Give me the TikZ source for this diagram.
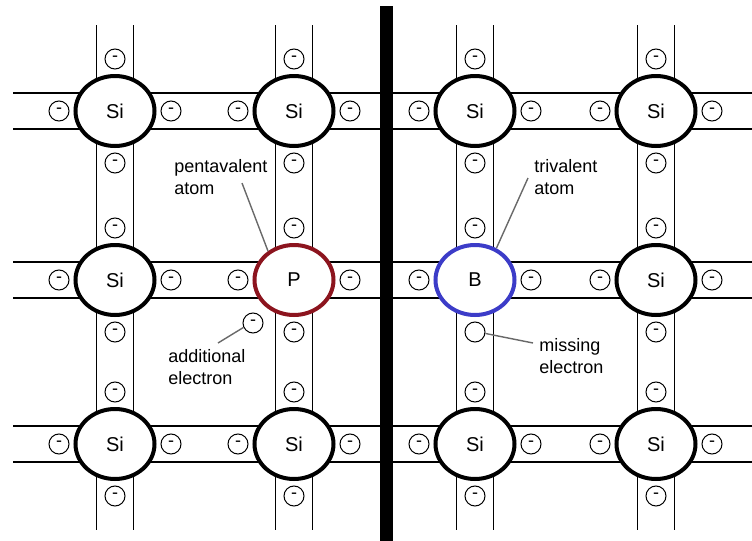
\documentclass[tikz,border=0pt]{standalone}
\usepackage{fontspec}
\setmainfont{Liberation Sans}
\usetikzlibrary{shapes.geometric}
\definecolor{pred}{RGB}{140,20,30}
\definecolor{bblue}{RGB}{60,60,200}
\definecolor{pgray}{RGB}{105,105,105}
\tikzset{
  atom/.style={ellipse,draw,fill=white,line width=2pt,minimum width=39.5pt,
    minimum height=35pt,inner sep=0pt,font=\fontsize{10}{12}\selectfont},
  elec/.style={circle,draw,fill=white,line width=0.5pt,minimum size=10pt,
    inner sep=0pt,font=\fontsize{9}{9}\selectfont},
  bond/.style={line width=0.65pt},
  pointer/.style={draw=pgray,line width=0.7pt},
  lbl/.style={align=left,anchor=west,inner sep=0pt,font=\fontsize{9}{11}\selectfont}
}

\begin{document}
\begin{tikzpicture}[x=0.5pt,y=-0.5pt]
    \useasboundingbox (0,0) rectangle (752,541);

    % bonds
    \foreach \x in {115,294,475,656}{
      \draw[bond] (\x-18.5,25) -- (\x-18.5,530);
      \draw[bond] (\x+18.5,25) -- (\x+18.5,530);
    }
    \foreach \y in {111,280,444}{
      \draw[bond] (13,\y-18) -- (380,\y-18);
      \draw[bond] (13,\y+18) -- (380,\y+18);
      \draw[bond] (393,\y-18) -- (752,\y-18);
      \draw[bond] (393,\y+18) -- (752,\y+18);
    }

    % divider
    \fill (380,6) rectangle (393,541);

    % atoms
    \node[atom] (si11) at (115,111) {Si};
    \node[atom] (si12) at (294,111) {Si};
    \node[atom] (si21) at (115,280) {Si};
    \node[atom,draw=pred] (p) at (294,280) {P};
    \node[atom] (si31) at (115,444) {Si};
    \node[atom] (si32) at (294,444) {Si};

    \node[atom] (si13) at (475,111) {Si};
    \node[atom] (si14) at (656,111) {Si};
    \node[atom,draw=bblue] (b) at (475,280) {B};
    \node[atom] (si24) at (656,280) {Si};
    \node[atom] (si33) at (475,444) {Si};
    \node[atom] (si34) at (656,444) {Si};

    % electrons
    \foreach \x in {59,171,238,350,419,531,600,712}
      \foreach \y in {111,280,444}
        \node[elec] (eh\x-\y) at (\x,\y) {-};
    \foreach \x in {115,294,656}
      \foreach \y in {59,163,228,332,392,496}
        \node[elec] (ev\x-\y) at (\x,\y) {-};
    \foreach \y in {59,163,228,392,496}
      \node[elec] (ev475-\y) at (475,\y) {-};
    \node[elec] (add) at (253,323) {-};
    \node[elec] (miss) at (475,332) {};

    % labels
    \node[lbl] (penta) at (174,177) {pentavalent\\atom};
    \node[lbl] (addl) at (168,367) {additional\\electron};
    \node[lbl] (tri) at (534,177) {trivalent\\atom};
    \node[lbl] (missl) at (539,356) {missing\\electron};

    \coordinate (pentatip) at (242,183);
    \coordinate (addtip) at (218,343);
    \coordinate (tritip) at (528,178);
    \coordinate (misstip) at (533,343);

    \draw[pointer] (pentatip) -- (p.132);
    \draw[pointer] (addtip) -- (add.205);
    \draw[pointer] (tritip) -- (b.56);
    \draw[pointer] (misstip) -- (miss.-8);
\end{tikzpicture}
\end{document}
